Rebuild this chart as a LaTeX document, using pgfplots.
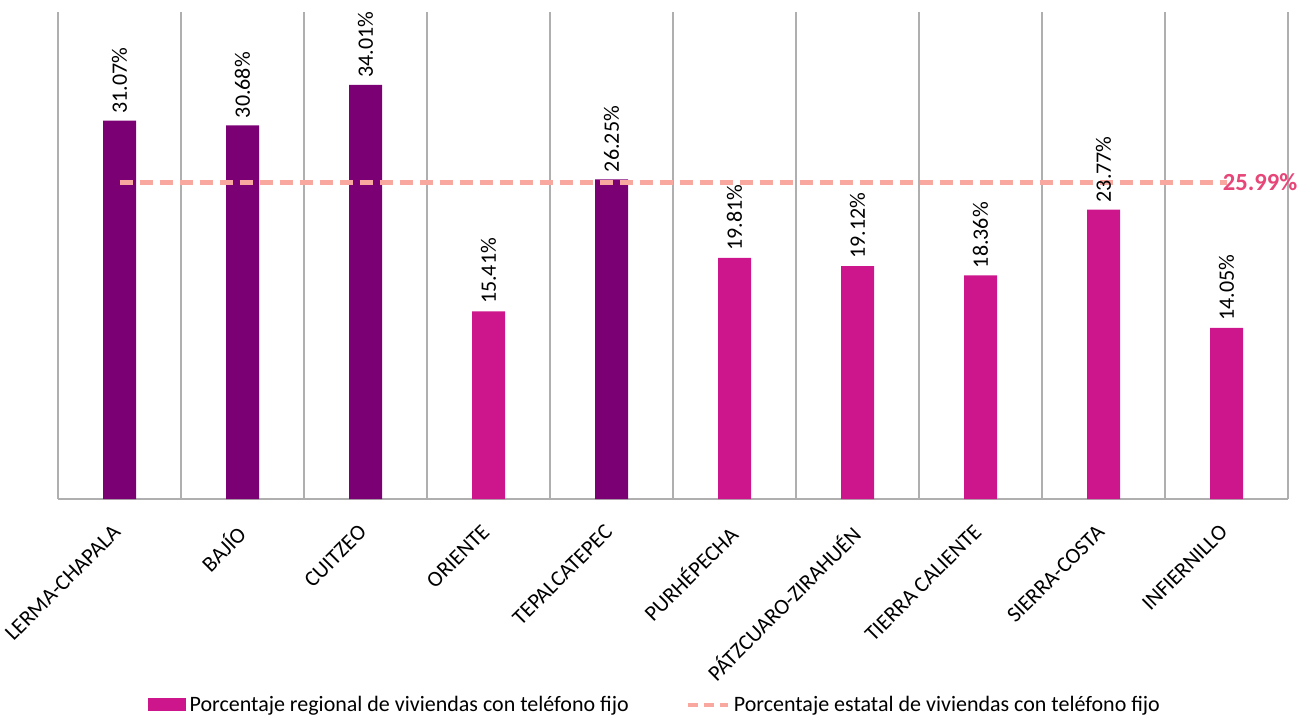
\documentclass[border=0pt]{standalone}
\usepackage{fontspec}
\setmainfont{Carlito}
\usepackage{pgfplots}
\pgfplotsset{compat=1.18}
\definecolor{darkp}{RGB}{123,0,116}
\definecolor{magp}{RGB}{205,22,140}
\definecolor{salmon}{RGB}{248,168,158}
\definecolor{pinklab}{RGB}{230,70,120}
\definecolor{gridc}{RGB}{175,175,175}
\begin{document}
\begin{tikzpicture}
\begin{axis}[
  scale only axis, width=615pt, height=243.5pt,
  xmin=-0.5, xmax=9.5, ymin=0, ymax=40,
  axis x line=bottom, axis y line=none,
  x axis line style={-, draw=gridc, line width=0.6pt},
  xtick={0,...,9},
  xticklabels={LERMA-CHAPALA,BAJÍO,CUITZEO,ORIENTE,TEPALCATEPEC,PURHÉPECHA,PÁTZCUARO-ZIRAHUÉN,TIERRA CALIENTE,SIERRA-COSTA,INFIERNILLO},
  major tick length=0pt, minor tick length=0pt,
  minor xtick={-0.5,0.5,...,9.5},
  xminorgrids, minor grid style={gridc, line width=0.7pt},
  ytick=\empty,
  xticklabel style={anchor=north east, inner sep=0pt, font=\fontsize{11}{13}\selectfont, xshift=-4pt, yshift=-12pt, rotate=45},
  bar width=16.5pt,
  ybar, bar shift=0pt,
  nodes near coords={\pgfmathprintnumber[fixed,fixed zerofill,precision=2,assume math mode=true]{\pgfplotspointmeta}\%},
  every node near coord/.append style={rotate=90, anchor=west, font=\fontsize{11}{13}\selectfont, text=black, inner sep=3.5pt},
  legend style={at={(0.486,-0.423)}, anchor=center, legend columns=2, draw=none, fill=none,
    font=\fontsize{11}{13}\selectfont,
    /tikz/every even column/.append style={column sep=27pt}},
  clip=false,
]
\addplot[fill=darkp, draw=none, forget plot] coordinates {(0,31.07) (1,30.68) (2,34.01) (4,26.25)};
\addplot[fill=magp, draw=none, legend image code/.code={\fill[magp] (0pt,-3.2pt) rectangle (19pt,3.3pt);}] coordinates {(3,15.41) (5,19.81) (6,19.12) (7,18.36) (8,23.77) (9,14.05)};
\addlegendentry{Porcentaje regional de viviendas con teléfono fijo}
\addplot[sharp plot, nodes near coords={}, salmon, line width=2.2pt, dash pattern=on 6.5pt off 3.5pt,
  legend image code/.code={\draw[salmon, line width=1.6pt, dash pattern=on 5pt off 3pt] (0pt,0pt) -- (20pt,0pt);}] coordinates {(0,25.99) (9,25.99)};
\addlegendentry{Porcentaje estatal de viviendas con teléfono fijo}
\node[anchor=west, text=pinklab, font=\fontsize{12.3}{14}\selectfont\bfseries, inner sep=0pt] at (axis cs:9,25.99) [xshift=-2pt] {25.99\%};
\end{axis}
\pgfresetboundingbox
\path[use as bounding box] (-29pt,-109pt) rectangle (623pt,249.5pt);
\end{tikzpicture}
\end{document}
